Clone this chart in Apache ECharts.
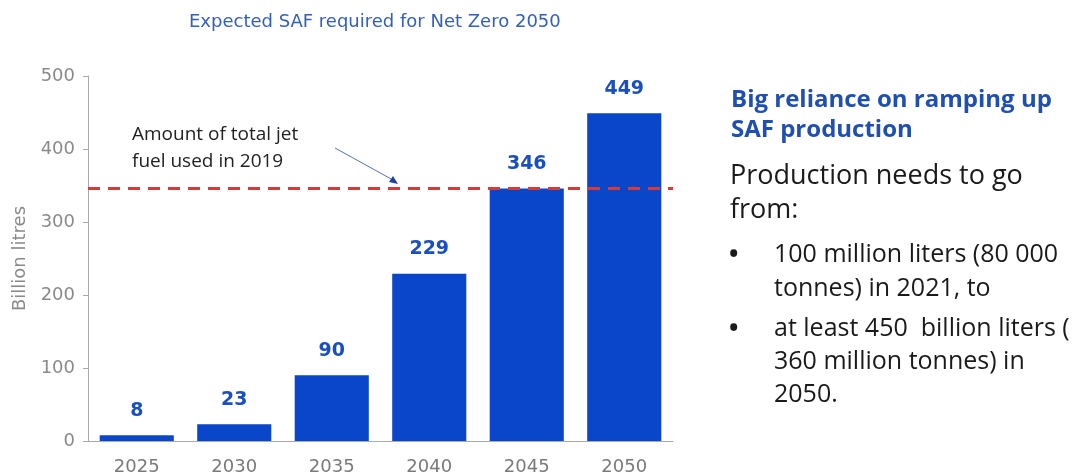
<!DOCTYPE html>
<html>
<head>
<meta charset="utf-8">
<script src="https://cdn.jsdelivr.net/npm/echarts@6/dist/echarts.min.js"></script>
<style>
  html, body { margin: 0; padding: 0; background: #fff; }
  #safChart { width: 1082px; height: 476px; }
</style>
</head>
<body>
<div id="safChart"></div>
<script>
// data
var years = ['2025', '2030', '2035', '2040', '2045', '2050'];
var safValues = [8, 23, 90, 229, 346, 449];
var jetFuel2019 = [346];
var yTicks = [0, 100, 200, 300, 400, 500];

var safChart = echarts.init(document.getElementById('safChart'));

var textFont = '"Open Sans", "Noto Sans", sans-serif';
var axisFont = '"DejaVu Sans", sans-serif';

var safOption = {
    backgroundColor: '#fff',
    animation: false,
    title: {
        text: 'Expected SAF required for Net Zero 2050',
        left: 184,
        top: 8,
        textStyle: {
            color: '#3560b8',
            fontSize: 18,
            fontWeight: 'normal',
            fontFamily: axisFont
        }
    },
    grid: {
        left: 88,
        right: 409,
        top: 76,
        bottom: 35
    },
    xAxis: {
        type: 'category',
        data: years,
        axisLine: { lineStyle: { color: '#aaa' } },
        axisTick: { lineStyle: { color: '#aaa' }, length: 5 },
        axisLabel: { color: '#7a7a7a', fontSize: 18, margin: 17, fontFamily: axisFont }
    },
    yAxis: {
        type: 'value',
        min: yTicks[0],
        max: yTicks[yTicks.length - 1],
        interval: 100,
        name: 'Billion litres',
        nameLocation: 'middle',
        nameGap: 59,
        nameTextStyle: { color: '#8a8a8a', fontSize: 18, fontFamily: axisFont },
        axisLine: { show: true, lineStyle: { color: '#aaa' } },
        axisTick: { show: true, lineStyle: { color: '#aaa' }, length: 5 },
        axisLabel: { color: '#8a8a8a', fontSize: 18, margin: 13, fontFamily: axisFont },
        splitLine: { show: false }
    },
    series: [{
        name: 'SAF',
        type: 'bar',
        data: safValues,
        barWidth: '76%',
        itemStyle: { color: '#0a46c9' },
        label: {
            show: true,
            position: 'top',
            distance: 15,
            color: '#1a4fc0',
            fontSize: 19,
            fontWeight: 'bold',
            fontFamily: axisFont
        },
        markLine: {
            silent: true,
            symbol: 'none',
            label: { show: false },
            lineStyle: { color: '#d43c3c', type: [12, 8], width: 3 },
            data: [{ yAxis: jetFuel2019[0] }]
        }
    }],
    graphic: [
        {
            type: 'text',
            left: 132,
            top: 121,
            style: {
                text: 'Amount of total jet\nfuel used in 2019',
                fill: '#222',
                font: '19px ' + textFont,
                lineHeight: 27
            }
        },
        {
            type: 'line',
            shape: { x1: 335, y1: 148, x2: 393, y2: 180 },
            style: { stroke: '#5a6fb0', lineWidth: 1 }
        },
        {
            type: 'polygon',
            shape: { points: [[398, 184], [389, 182], [393, 176]] },
            style: { fill: '#2040a0' }
        },
        {
            type: 'text',
            left: 731,
            top: 85,
            style: {
                text: 'Big reliance on ramping up\nSAF production',
                fill: '#1f4fb0',
                font: 'bold 24px ' + textFont,
                lineHeight: 30
            }
        },
        {
            type: 'text',
            left: 730,
            top: 159,
            style: {
                text: 'Production needs to go\nfrom:',
                fill: '#1a1a1a',
                font: '27px ' + textFont,
                lineHeight: 34
            }
        },
        {
            type: 'text',
            left: 729,
            top: 238,
            style: { text: '•', fill: '#1a1a1a', font: 'bold 25px ' + textFont, lineHeight: 34 }
        },
        {
            type: 'text',
            left: 774,
            top: 238,
            style: {
                text: '100 million liters (80 000\ntonnes) in 2021, to',
                fill: '#1a1a1a',
                font: '25px ' + textFont,
                lineHeight: 34
            }
        },
        {
            type: 'text',
            left: 729,
            top: 312,
            style: { text: '•', fill: '#1a1a1a', font: 'bold 25px ' + textFont, lineHeight: 33 }
        },
        {
            type: 'text',
            left: 774,
            top: 312,
            style: {
                text: 'at least 450  billion liters (\n360 million tonnes) in\n2050.',
                fill: '#1a1a1a',
                font: '25px ' + textFont,
                lineHeight: 33
            }
        }
    ]
};

safChart.setOption(safOption);
</script>
</body>
</html>
